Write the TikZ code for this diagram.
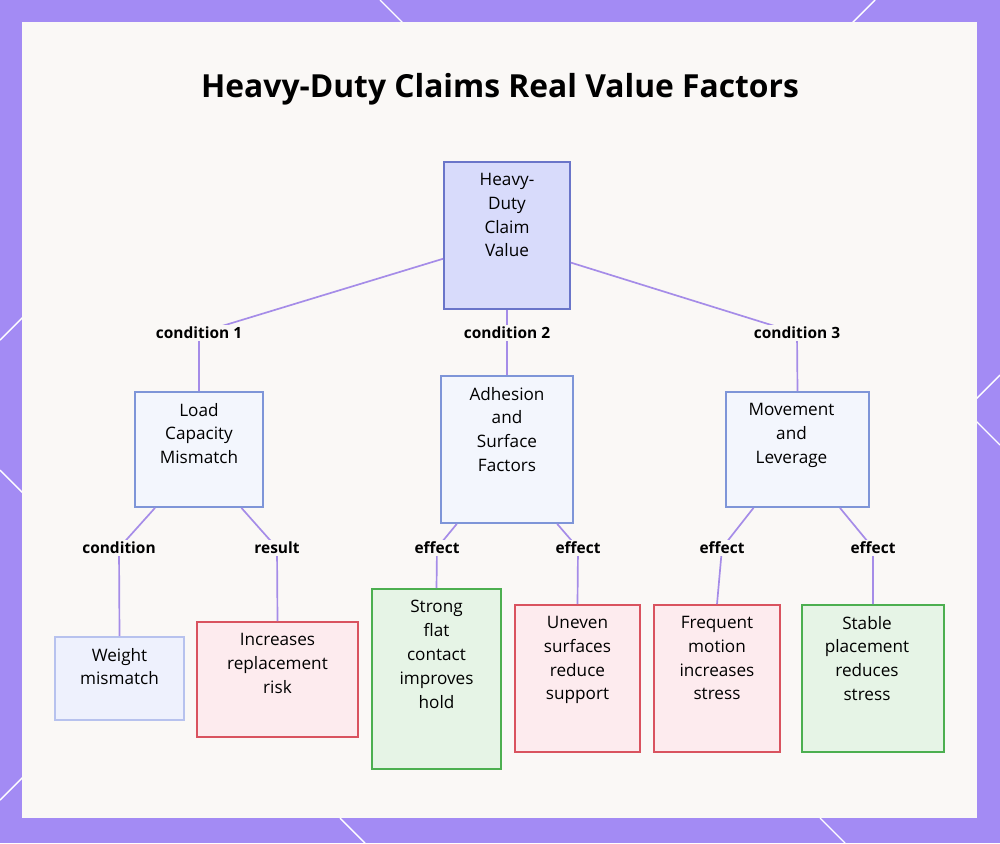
\documentclass[tikz,border=0pt]{standalone}
\usepackage{fontspec}
\setmainfont{Open Sans}
\usetikzlibrary{calc, positioning}
\definecolor{frame}{HTML}{A38BF4}
\definecolor{panel}{HTML}{FAF8F6}
\definecolor{linkc}{HTML}{A58CE8}
\definecolor{rootf}{HTML}{D8DBFB}
\definecolor{rootd}{HTML}{6A75C9}
\definecolor{midf}{HTML}{F3F6FD}
\definecolor{midd}{HTML}{7E95D8}
\definecolor{lowf}{HTML}{EEF1FD}
\definecolor{lowd}{HTML}{B7C2EE}
\definecolor{redf}{HTML}{FDEBEE}
\definecolor{redd}{HTML}{D9535F}
\definecolor{grnf}{HTML}{E6F4E6}
\definecolor{grnd}{HTML}{4CAF50}
\begin{document}
\begin{tikzpicture}[x=0.025cm, y=-0.025cm,
            box/.style={draw, line width=1.2pt, inner sep=0pt},
            txt/.style={anchor=north, yshift=-0.29cm, align=center, inner sep=0pt, font=\fontsize{12.2}{17}\selectfont},
            edge/.style={draw=linkc, line width=1.2pt},
            tag/.style={font=\bfseries\fontsize{11}{13}\selectfont, fill=panel, inner sep=1.5pt}]
        \useasboundingbox (0,0) rectangle (1000,843);
        \fill[frame] (0,0) rectangle (1000,843);
        % white strokes on the frame
        \foreach \a/\b/\c/\d in {0/340/25/315, 0/470/25/495, 975/400/1000/375, 975/420/1000/445, 340/818/365/843, 820/818/845/843, 380/0/405/25, 850/25/875/0, 0/800/25/775}
            \draw[white, line width=1pt] (\a,\b) -- (\c,\d);
        \fill[panel] (22,22) rectangle (977,818);
        \node[font=\bfseries\fontsize{22.6}{26}\selectfont] (title) at (500,89) {Heavy-Duty Claims Real Value Factors};
        % boxes
        \node[box, fill=rootf, draw=rootd, minimum width=3.15cm, minimum height=3.675cm] (root) at (507,235.5) {};
        \node[box, fill=midf, draw=midd, minimum width=3.2cm, minimum height=2.875cm] (load) at (199,449.5) {};
        \node[box, fill=midf, draw=midd, minimum width=3.3cm, minimum height=3.675cm] (adh) at (507,449.5) {};
        \node[box, fill=midf, draw=midd, minimum width=3.575cm, minimum height=2.875cm] (move) at (797.5,449.5) {};
        \node[box, fill=lowf, draw=lowd, minimum width=3.225cm, minimum height=2.075cm] (weight) at (119.5,678.5) {};
        \node[box, fill=redf, draw=redd, minimum width=4.025cm, minimum height=2.875cm] (risk) at (277.5,679.5) {};
        \node[box, fill=grnf, draw=grnd, minimum width=3.225cm, minimum height=4.5cm] (strong) at (436.5,679) {};
        \node[box, fill=redf, draw=redd, minimum width=3.125cm, minimum height=3.675cm] (uneven) at (577.5,678.5) {};
        \node[box, fill=redf, draw=redd, minimum width=3.15cm, minimum height=3.675cm] (freq) at (717,678.5) {};
        \node[box, fill=grnf, draw=grnd, minimum width=3.55cm, minimum height=3.675cm] (stable) at (873,678.5) {};
        % texts
        \node[txt] (root-t) at (root.north) {Heavy-\\Duty\\Claim\\Value};
        \node[txt] (load-t) at (load.north) {Load\\Capacity\\Mismatch};
        \node[txt] (adh-t) at (adh.north) {Adhesion\\and\\Surface\\Factors};
        \node[txt, xshift=-0.15cm] (move-t) at (move.north) {Movement\\and\\Leverage};
        \node[txt] (weight-t) at (weight.north) {Weight\\mismatch};
        \node[txt] (risk-t) at (risk.north) {Increases\\replacement\\risk};
        \node[txt] (strong-t) at (strong.north) {Strong\\flat\\contact\\improves\\hold};
        \node[txt] (uneven-t) at (uneven.north) {Uneven\\surfaces\\reduce\\support};
        \node[txt] (freq-t) at (freq.north) {Frequent\\motion\\increases\\stress};
        \node[txt, xshift=-0.15cm] (stable-t) at (stable.north) {Stable\\placement\\reduces\\stress};
        % bends
        \coordinate (k1) at (199,333);
        \coordinate (k2) at (507,333);
        \coordinate (k3) at (797,333);
        \coordinate (k4) at (119,548);
        \coordinate (k5) at (277,548);
        \coordinate (k6) at (437,548);
        \coordinate (k7) at (578,548);
        \coordinate (k8) at (722,548);
        \coordinate (k9) at (873,548);
        \draw[edge] (root.200) -- (k1) -- (load.north);
        \draw[edge] (root.south) -- (adh.north);
        \draw[edge] (root.-23) -- (k3) -- (move.north);
        \draw[edge] (load.233) -- (k4) -- (weight.north);
        \draw[edge] (load.-54) -- (k5) -- (risk.north);
        \draw[edge] (adh.236) -- (k6) -- (strong.north);
        \draw[edge] (adh.-56) -- (k7) -- (uneven.north);
        \draw[edge] (move.233) -- (k8) -- (freq.north);
        \draw[edge] (move.-54) -- (k9) -- (stable.north);
        \node[tag] (t1) at (k1) {condition 1};
        \node[tag] (t2) at (k2) {condition 2};
        \node[tag] (t3) at (k3) {condition 3};
        \node[tag] (t4) at (k4) {condition};
        \node[tag] (t5) at (k5) {result};
        \node[tag] (t6) at (k6) {effect};
        \node[tag] (t7) at (k7) {effect};
        \node[tag] (t8) at (k8) {effect};
        \node[tag] (t9) at (k9) {effect};
    \end{tikzpicture}
\end{document}
